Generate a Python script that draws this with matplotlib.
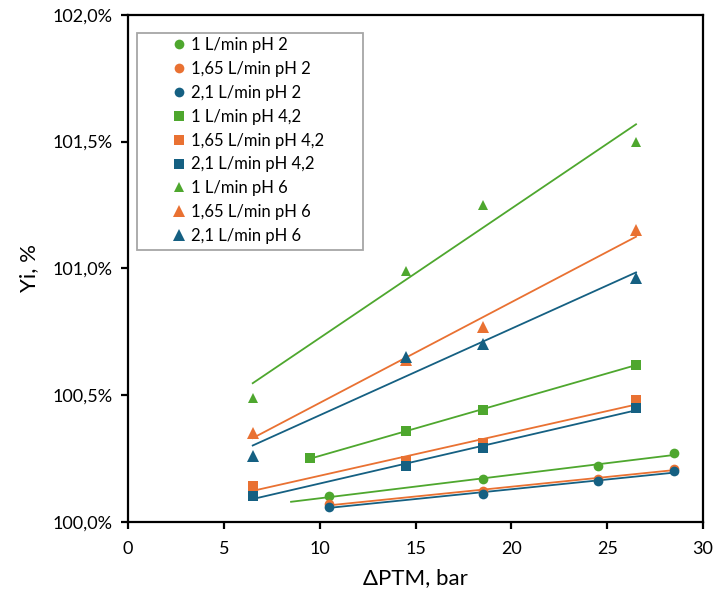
import numpy as np
import matplotlib
matplotlib.use("Agg")
import matplotlib.pyplot as plt
from matplotlib.patches import Rectangle
from matplotlib.ticker import FuncFormatter, MultipleLocator

plt.rcParams['font.family'] = ['Lato', 'DejaVu Sans']

# ====== data (Yi in %) ======
x_ph2 = [10.5, 18.5, 24.5, 28.5]
y_ph2_1 = [100.10, 100.17, 100.22, 100.27]
y_ph2_165 = [100.07, 100.12, 100.17, 100.21]
y_ph2_21 = [100.06, 100.11, 100.16, 100.20]

x_ph42_1 = [9.5, 14.5, 18.5, 26.5]
x_ph42 = [6.5, 14.5, 18.5, 26.5]
y_ph42_1 = [100.25, 100.36, 100.44, 100.62]
y_ph42_165 = [100.14, 100.24, 100.31, 100.48]
y_ph42_21 = [100.10, 100.22, 100.29, 100.45]

x_ph6 = [6.5, 14.5, 18.5, 26.5]
y_ph6_1 = [100.49, 100.99, 101.25, 101.50]
y_ph6_165 = [100.35, 100.64, 100.77, 101.15]
y_ph6_21 = [100.26, 100.65, 100.70, 100.96]

labels = ["1 L/min pH 2", "1,65 L/min pH 2", "2,1 L/min pH 2",
          "1 L/min pH 4,2", "1,65 L/min pH 4,2", "2,1 L/min pH 4,2",
          "1 L/min pH 6", "1,65 L/min pH 6", "2,1 L/min pH 6"]

green = "#4EA72E"
orange = "#E97132"
blue = "#156082"

# (x, y, color, marker, size, backward extension of trendline)
series = [
    (x_ph2, y_ph2_1, green, "o", 7, 2.0),
    (x_ph2, y_ph2_165, orange, "o", 7, 0),
    (x_ph2, y_ph2_21, blue, "o", 7, 0),
    (x_ph42_1, y_ph42_1, green, "s", 7, 0),
    (x_ph42, y_ph42_165, orange, "s", 7, 0),
    (x_ph42, y_ph42_21, blue, "s", 7, 0),
    (x_ph6, y_ph6_1, green, "^", 7, 0),
    (x_ph6, y_ph6_165, orange, "^", 8.5, 0),
    (x_ph6, y_ph6_21, blue, "^", 8.5, 0),
]

fig = plt.figure(figsize=(7.16, 5.91), dpi=100)
ax = fig.add_axes([0.179, 0.117, 0.803, 0.858])

handles = []
for (xs, ys, col, mk, ms, back), lab in zip(series, labels):
    h, = ax.plot(xs, ys, linestyle="none", marker=mk, markersize=ms,
                 color=col, markeredgewidth=0, label=lab, zorder=3)
    handles.append(h)
    # linear trendline
    k, b = np.polyfit(xs, ys, 1)
    xt = np.array([min(xs) - back, max(xs)])
    ax.plot(xt, k * xt + b, color=col, linewidth=1.3, zorder=2)

ax.set_xlim(0, 30)
ax.set_ylim(100.0, 102.0)
ax.xaxis.set_major_locator(MultipleLocator(5))
ax.yaxis.set_major_locator(MultipleLocator(0.5))
ax.yaxis.set_major_formatter(FuncFormatter(lambda v, p: f"{v:.1f}%".replace(".", ",")))

for s in ax.spines.values():
    s.set_linewidth(1.6)
ax.tick_params(direction="out", length=5, width=1.6, labelsize=13, pad=6)
ax.tick_params(axis="x", pad=9)

ax.set_xlabel("ΔPTM, bar", fontsize=16, labelpad=8)
ax.set_ylabel("Yi, %", fontsize=16, labelpad=10)

# legend box (drawn separately, wider than the entries like in the original)
ax.add_patch(Rectangle((0.0157, 0.5354), 0.393, 0.4292, transform=ax.transAxes,
                       facecolor="white", edgecolor="#A6A6A6", linewidth=1.3,
                       zorder=4))
leg = ax.legend(handles=handles, loc="upper left", bbox_to_anchor=(0.0626, 0.972),
                fontsize=12, frameon=False, handlelength=0.8,
                handletextpad=0.3, labelspacing=0.47, borderpad=0.5,
                borderaxespad=0)
leg.set_zorder(5)

fig.savefig("out.png", dpi=100)
